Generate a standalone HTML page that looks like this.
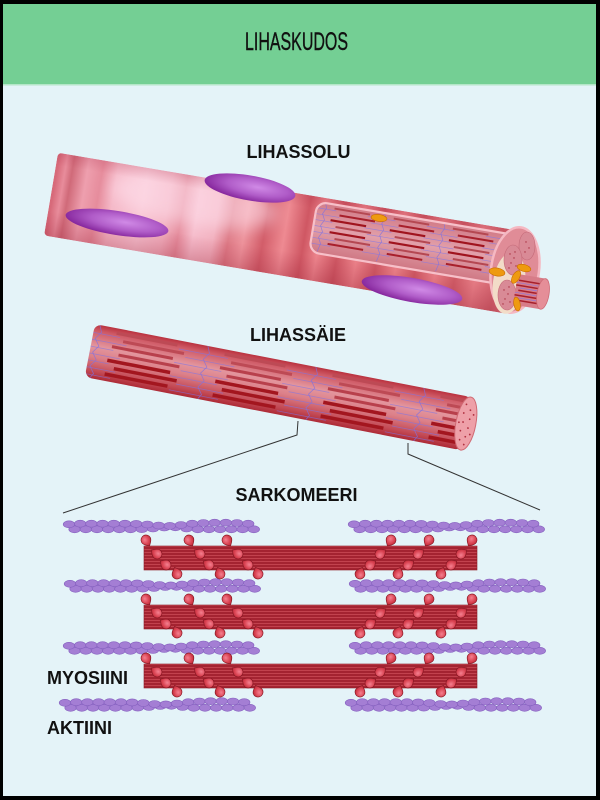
<!DOCTYPE html>
<html><head><meta charset="utf-8"><style>
html,body{margin:0;padding:0;width:600px;height:800px;overflow:hidden;background:#000}
svg{display:block}
text{font-family:"Liberation Sans",sans-serif}
</style></head><body>
<svg width="600" height="800" viewBox="0 0 600 800" xmlns="http://www.w3.org/2000/svg">
<defs>
 <linearGradient id="cellStripes" gradientUnits="userSpaceOnUse" x1="0" y1="0" x2="468" y2="0">
  <stop offset="0" stop-color="#d76a7a"/>
  <stop offset="0.017" stop-color="#e88c9b"/>
  <stop offset="0.032" stop-color="#d06a79"/>
  <stop offset="0.064" stop-color="#ee9fae"/>
  <stop offset="0.096" stop-color="#e68c9c"/>
  <stop offset="0.128" stop-color="#f5b8c7"/>
  <stop offset="0.192" stop-color="#f8c5d3"/>
  <stop offset="0.246" stop-color="#f2b0bf"/>
  <stop offset="0.278" stop-color="#e58c9c"/>
  <stop offset="0.31" stop-color="#f6bccb"/>
  <stop offset="0.353" stop-color="#f2b0be"/>
  <stop offset="0.385" stop-color="#dd7985"/>
  <stop offset="0.417" stop-color="#ed929b"/>
  <stop offset="0.459" stop-color="#d25d69"/>
  <stop offset="0.502" stop-color="#ee8a92"/>
  <stop offset="0.545" stop-color="#cf5763"/>
  <stop offset="0.577" stop-color="#ec848c"/>
  <stop offset="0.62" stop-color="#cc5561"/>
  <stop offset="0.662" stop-color="#ea8088"/>
  <stop offset="0.705" stop-color="#cc5662"/>
  <stop offset="0.748" stop-color="#e87e86"/>
  <stop offset="0.79" stop-color="#cb5560"/>
  <stop offset="0.833" stop-color="#e67b84"/>
  <stop offset="0.876" stop-color="#cd5964"/>
  <stop offset="0.919" stop-color="#e47a83"/>
  <stop offset="0.962" stop-color="#d0606b"/>
  <stop offset="1" stop-color="#e07580"/>
 </linearGradient>
 <linearGradient id="cellShade" x1="0" y1="0" x2="0" y2="1">
  <stop offset="0" stop-color="#a01e3c" stop-opacity="0.18"/>
  <stop offset="0.15" stop-color="#a01e3c" stop-opacity="0"/>
  <stop offset="0.7" stop-color="#a01e3c" stop-opacity="0"/>
  <stop offset="1" stop-color="#961e32" stop-opacity="0.28"/>
 </linearGradient>
 <filter id="blur8" x="-50%" y="-50%" width="200%" height="200%"><feGaussianBlur stdDeviation="8"/></filter>
 <radialGradient id="nuc" cx="0.58" cy="0.42" r="0.6">
  <stop offset="0" stop-color="#d08ae6"/>
  <stop offset="0.55" stop-color="#b05cc8"/>
  <stop offset="1" stop-color="#87289e"/>
 </radialGradient>
 <linearGradient id="fibG" x1="0" y1="0" x2="0" y2="1">
  <stop offset="0" stop-color="#b9323f"/>
  <stop offset="0.12" stop-color="#cf5a66"/>
  <stop offset="0.4" stop-color="#e3959d"/>
  <stop offset="0.6" stop-color="#dc8089"/>
  <stop offset="0.85" stop-color="#c44c57"/>
  <stop offset="1" stop-color="#ad2a36"/>
 </linearGradient>
 <linearGradient id="winG" x1="0" y1="0" x2="0" y2="1">
  <stop offset="0" stop-color="#d27c88"/>
  <stop offset="0.5" stop-color="#e2a0aa"/>
  <stop offset="1" stop-color="#cf7884"/>
 </linearGradient>
 <radialGradient id="headG" cx="0.4" cy="0.35" r="0.7">
  <stop offset="0" stop-color="#f48090"/>
  <stop offset="0.6" stop-color="#d8404f"/>
  <stop offset="1" stop-color="#b02634"/>
 </radialGradient>
 <pattern id="barPat" width="10" height="3" patternUnits="userSpaceOnUse">
  <rect width="10" height="3" fill="#a42331"/>
  <rect y="0" width="10" height="1" fill="#c2424e"/>
 </pattern>
 <path id="head" d="M0,7 C1.8,5 5,3 5,0 A5,5 0 1 0 -5,0 C-5,3 -1.8,5 0,7Z" fill="url(#headG)" stroke="#8a1824" stroke-width="0.7"/>

 <g id="act">
  <g fill="#a47ed4" stroke="#8560bf" stroke-width="0.6">
   <ellipse cx="11.6" cy="2.8" rx="5.8" ry="3.5"/><ellipse cx="22.8" cy="2.8" rx="5.8" ry="3.5"/><ellipse cx="34" cy="2.8" rx="5.8" ry="3.5"/><ellipse cx="45.2" cy="2.8" rx="5.8" ry="3.5"/><ellipse cx="56.4" cy="2.8" rx="5.8" ry="3.5"/><ellipse cx="67.6" cy="2.8" rx="5.8" ry="3.5"/><ellipse cx="78.8" cy="2.6" rx="5.8" ry="3.5"/><ellipse cx="90" cy="2" rx="5.8" ry="3.5"/><ellipse cx="101.2" cy="1" rx="5.8" ry="3.5"/><ellipse cx="112.4" cy="0.8" rx="5.8" ry="3.5"/><ellipse cx="123.6" cy="2" rx="5.8" ry="3.5"/><ellipse cx="134.8" cy="2.8" rx="5.8" ry="3.5"/><ellipse cx="146" cy="2.8" rx="5.8" ry="3.5"/><ellipse cx="157.2" cy="2.8" rx="5.8" ry="3.5"/><ellipse cx="168.4" cy="2.8" rx="5.8" ry="3.5"/><ellipse cx="179.6" cy="2.8" rx="5.8" ry="3.5"/><ellipse cx="190.8" cy="2.8" rx="5.8" ry="3.5"/>
   <ellipse cx="6" cy="-2.2" rx="5.8" ry="3.5"/><ellipse cx="17.2" cy="-2.8" rx="5.8" ry="3.5"/><ellipse cx="28.4" cy="-2.8" rx="5.8" ry="3.5"/><ellipse cx="39.6" cy="-2.8" rx="5.8" ry="3.5"/><ellipse cx="50.8" cy="-2.8" rx="5.8" ry="3.5"/><ellipse cx="62" cy="-2.8" rx="5.8" ry="3.5"/><ellipse cx="73.2" cy="-2.6" rx="5.8" ry="3.5"/><ellipse cx="84.4" cy="-2" rx="5.8" ry="3.5"/><ellipse cx="95.6" cy="-1" rx="5.8" ry="3.5"/><ellipse cx="106.8" cy="-0.6" rx="5.8" ry="3.5"/><ellipse cx="118" cy="-1.5" rx="5.8" ry="3.5"/><ellipse cx="129.2" cy="-2.8" rx="5.8" ry="3.5"/><ellipse cx="140.4" cy="-3.5" rx="5.8" ry="3.5"/><ellipse cx="151.6" cy="-3.8" rx="5.8" ry="3.5"/><ellipse cx="162.8" cy="-3.8" rx="5.8" ry="3.5"/><ellipse cx="174" cy="-3.5" rx="5.8" ry="3.5"/><ellipse cx="185.2" cy="-2.8" rx="5.8" ry="3.5"/>
  </g>
 </g>

 <g id="bar">
  <rect x="0" y="0" width="333" height="24" fill="url(#barPat)"/>
  <rect x="0" y="0" width="333" height="24" fill="none" stroke="#8e1a26" stroke-width="0.6"/>
  <use href="#head" transform="translate(2,-6) rotate(-30)"/>
  <use href="#head" transform="translate(45,-6) rotate(-30)"/>
  <use href="#head" transform="translate(83,-6) rotate(-30)"/>
  <use href="#head" transform="translate(13,8) rotate(125)"/>
  <use href="#head" transform="translate(56,8) rotate(125)"/>
  <use href="#head" transform="translate(94,8) rotate(125)"/>
  <use href="#head" transform="translate(22,19) rotate(125)"/>
  <use href="#head" transform="translate(65,19) rotate(125)"/>
  <use href="#head" transform="translate(104,19) rotate(125)"/>
  <use href="#head" transform="translate(33,28) rotate(160)"/>
  <use href="#head" transform="translate(76,28) rotate(160)"/>
  <use href="#head" transform="translate(114,28) rotate(160)"/>
  <use href="#head" transform="translate(247,-6) rotate(30)"/>
  <use href="#head" transform="translate(285,-6) rotate(30)"/>
  <use href="#head" transform="translate(328,-6) rotate(30)"/>
  <use href="#head" transform="translate(236,8) rotate(-125)"/>
  <use href="#head" transform="translate(274,8) rotate(-125)"/>
  <use href="#head" transform="translate(317,8) rotate(-125)"/>
  <use href="#head" transform="translate(226,19) rotate(-125)"/>
  <use href="#head" transform="translate(264,19) rotate(-125)"/>
  <use href="#head" transform="translate(307,19) rotate(-125)"/>
  <use href="#head" transform="translate(216,28) rotate(-160)"/>
  <use href="#head" transform="translate(254,28) rotate(-160)"/>
  <use href="#head" transform="translate(297,28) rotate(-160)"/>
 </g>

 <g id="fseg">
  <rect x="18" y="3.5" width="62" height="3" fill="#bd4a55"/>
  <rect x="26" y="10.5" width="62" height="3" fill="#bd4a55"/>
  <rect x="16" y="17.5" width="62" height="3" fill="#b8404c"/>
  <rect x="24" y="24.5" width="62" height="3" fill="#b8404c"/>
  <rect x="14" y="31.5" width="64" height="3.5" fill="#a3161f"/>
  <rect x="22" y="38.5" width="64" height="3.5" fill="#a3161f"/>
  <rect x="14" y="45.5" width="64" height="3.5" fill="#a3161f"/>
  <path d="M-28 8.5H22 M-20 15.5H30 M-30 22.5H18 M-22 29.5H26 M-32 36.5H16 M-24 43.5H24 M-30 50.5H20" stroke="#7e74e4" stroke-width="0.8" stroke-opacity="0.6" fill="none"/>
  <polyline points="0,0 3,7 -2,14 3,21 -2,28 3,35 -2,42 3,49 0,54" fill="none" stroke="#8070e0" stroke-width="0.8" stroke-opacity="0.75"/>
 </g>

 <g id="cseg">
  <rect x="10" y="8" width="36" height="2" fill="#b54852"/>
  <rect x="16" y="14" width="36" height="2" fill="#a8202c"/>
  <rect x="8" y="20" width="36" height="2.2" fill="#a0141e"/>
  <rect x="14" y="26" width="36" height="2" fill="#b54852"/>
  <rect x="9" y="32" width="36" height="2.2" fill="#a0141e"/>
  <rect x="15" y="38" width="36" height="2" fill="#b54852"/>
  <rect x="9" y="44" width="36" height="2" fill="#a8202c"/>
  <path d="M-16 11H12 M-12 17H16 M-18 23H10 M-14 29H14 M-18 35H10 M-12 41H16 M-16 47H12" stroke="#8478e6" stroke-width="0.7" stroke-opacity="0.7" fill="none"/>
  <polyline points="0,4 2,10 -1,16 2,22 -1,28 2,34 -1,40 2,46 0,54" fill="none" stroke="#8070e0" stroke-width="0.7" stroke-opacity="0.8"/>
 </g>
</defs>

<rect width="600" height="800" fill="#000"/>
<rect x="3" y="4" width="593" height="792" fill="#e4f3f8"/>
<rect x="3" y="4" width="593" height="80" fill="#74cf94"/>
<rect x="3" y="84" width="593" height="1.5" fill="#b4e6c8"/>
<text transform="translate(296.5,50) scale(0.64,1)" font-size="25" text-anchor="middle" fill="#111" stroke="#111" stroke-width="0.4">LIHASKUDOS</text>

<!-- LIHASSOLU cell -->
<g transform="translate(60,153) rotate(9.6)">
 <clipPath id="cellclip"><rect x="-2" y="0" width="470" height="84" rx="4"/></clipPath>
 <g clip-path="url(#cellclip)">
  <rect x="-2" y="0" width="470" height="84" fill="url(#cellStripes)"/>
  <ellipse cx="140" cy="24" rx="85" ry="26" fill="#ffe2ee" opacity="0.55" filter="url(#blur8)"/>
  <rect x="-2" y="0" width="470" height="84" fill="url(#cellShade)"/>
 </g>
 <clipPath id="winclip"><rect x="262" y="5" width="215" height="51" rx="10"/></clipPath>
 <rect x="262" y="5" width="215" height="51" rx="10" fill="url(#winG)"/>
 <g clip-path="url(#winclip)">
  <use href="#cseg" x="270"/><use href="#cseg" x="330"/><use href="#cseg" x="390"/><use href="#cseg" x="450"/>
 </g>
 <rect x="262" y="5" width="215" height="51" rx="10" fill="none" stroke="#f7c0c9" stroke-width="2.2"/>
</g>

<!-- cell end face -->
<ellipse cx="515" cy="270" rx="24" ry="43" transform="rotate(8 515 270)" fill="#e08c97" stroke="#f5b8c2" stroke-width="2.5"/>
<ellipse cx="509" cy="283" rx="16" ry="31" transform="rotate(8 509 283)" fill="#f2dcc8"/>
<ellipse cx="527" cy="246" rx="8" ry="14" fill="#d98a96" stroke="#c46a78" stroke-width="0.6"/>
<ellipse cx="513" cy="260" rx="9" ry="15" fill="#d98a96" stroke="#c46a78" stroke-width="0.6"/>
<ellipse cx="507" cy="295" rx="9" ry="15" fill="#d98a96" stroke="#c46a78" stroke-width="0.6"/>
<g fill="#a83040">
 <circle cx="510" cy="254" r="0.7"/><circle cx="514" cy="258" r="0.7"/><circle cx="511" cy="263" r="0.7"/><circle cx="516" cy="266" r="0.7"/><circle cx="509" cy="268" r="0.7"/><circle cx="515" cy="252" r="0.7"/>
 <circle cx="504" cy="290" r="0.7"/><circle cx="508" cy="294" r="0.7"/><circle cx="505" cy="299" r="0.7"/><circle cx="510" cy="302" r="0.7"/><circle cx="503" cy="304" r="0.7"/><circle cx="509" cy="287" r="0.7"/>
 <circle cx="526" cy="242" r="0.7"/><circle cx="529" cy="248" r="0.7"/><circle cx="525" cy="252" r="0.7"/>
</g>
<g transform="translate(518,274) rotate(9.6)">
 <rect x="0" y="0" width="28" height="31" fill="#d77c88"/>
 <path d="M2 6H26 M0 11H26 M3 16H27 M0 21H26 M2 26H27" stroke="#a8202c" stroke-width="1.5"/>
 <path d="M0 8.5H24 M4 13.5H28 M0 18.5H26 M2 23.5H28" stroke="#8478e6" stroke-width="0.6"/>
 <ellipse cx="28" cy="15.5" rx="6" ry="15.5" fill="#e58e98" stroke="#cf6a76" stroke-width="0.8"/>
</g>
<g fill="#ee9a10" stroke="#c86a00" stroke-width="0.6">
 <ellipse cx="379" cy="218" rx="8" ry="3.5" transform="rotate(8 379 218)"/>
 <ellipse cx="497" cy="272" rx="8" ry="4" transform="rotate(10 497 272)"/>
 <ellipse cx="524" cy="268" rx="7" ry="3.5" transform="rotate(15 524 268)"/>
 <ellipse cx="516" cy="277" rx="7" ry="3.5" transform="rotate(-60 516 277)"/>
 <ellipse cx="517" cy="304" rx="7" ry="3.2" transform="rotate(80 517 304)"/>
</g>
<ellipse cx="117" cy="223" rx="52" ry="12" transform="rotate(9 117 223)" fill="url(#nuc)"/>
<ellipse cx="250" cy="188" rx="46" ry="12.5" transform="rotate(10 250 188)" fill="url(#nuc)"/>
<ellipse cx="412" cy="290" rx="51" ry="12" transform="rotate(10 412 290)" fill="url(#nuc)"/>

<text x="298.5" y="158" font-size="18" font-weight="bold" text-anchor="middle" fill="#111">LIHASSOLU</text>

<!-- LIHASSÄIE fiber -->
<g transform="translate(95,324) rotate(11)">
 <clipPath id="fclip"><rect x="0" y="0" width="384" height="54" rx="7"/></clipPath>
 <rect x="0" y="0" width="384" height="54" rx="7" fill="url(#fibG)"/>
 <g clip-path="url(#fclip)">
  <use href="#fseg" x="-105"/><use href="#fseg" x="5"/><use href="#fseg" x="115"/><use href="#fseg" x="225"/><use href="#fseg" x="335"/>
 </g>
 <ellipse cx="383" cy="27" rx="10" ry="27" fill="#eea0a8" stroke="#d06a74" stroke-width="1"/>
 <g fill="#b03040">
  <circle cx="380" cy="8" r="0.9"/><circle cx="385" cy="13" r="0.9"/><circle cx="379" cy="17" r="0.9"/><circle cx="386" cy="22" r="0.9"/><circle cx="380" cy="26" r="0.9"/><circle cx="386" cy="31" r="0.9"/><circle cx="379" cy="35" r="0.9"/><circle cx="385" cy="40" r="0.9"/><circle cx="380" cy="44" r="0.9"/><circle cx="385" cy="48" r="0.9"/><circle cx="389" cy="17" r="0.9"/><circle cx="389" cy="37" r="0.9"/><circle cx="376" cy="27" r="0.9"/>
 </g>
</g>
<text x="298" y="341" font-size="18" font-weight="bold" text-anchor="middle" fill="#111">LIHASSÄIE</text>

<polyline points="298,421 297,435 63,513" fill="none" stroke="#333" stroke-width="1"/>
<polyline points="408,443 408,454 540,510" fill="none" stroke="#333" stroke-width="1"/>

<text x="296.5" y="501" font-size="18" font-weight="bold" text-anchor="middle" fill="#111">SARKOMEERI</text>

<use href="#act" x="63" y="526.5"/><use href="#act" x="348" y="526.5"/>
<use href="#bar" x="144" y="546"/>
<use href="#act" x="64" y="586"/><use href="#act" x="349" y="586"/>
<use href="#bar" x="144" y="605"/>
<use href="#act" x="63" y="648"/><use href="#act" x="349" y="648"/>
<use href="#bar" x="144" y="664"/>
<use href="#act" x="59" y="705"/><use href="#act" x="345" y="705"/>

<text x="47" y="684" font-size="18" font-weight="bold" fill="#111">MYOSIINI</text>
<text x="47" y="734" font-size="18" font-weight="bold" fill="#111">AKTIINI</text>
</svg>
</body></html>
